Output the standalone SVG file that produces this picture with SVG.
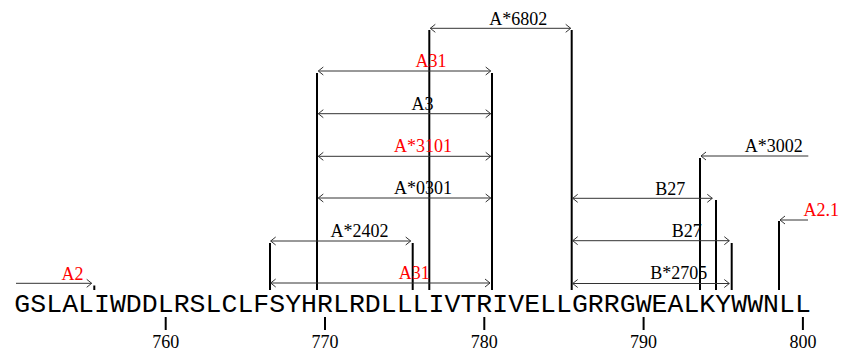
<svg xmlns="http://www.w3.org/2000/svg" width="846" height="360" viewBox="0 0 846 360">
<style>
.bg{fill:#ffffff}
.seq{font-family:"Liberation Mono","DejaVu Sans Mono",monospace;font-size:26.5px;fill:#000}
.num{font-family:"Liberation Serif","Times New Roman",serif;font-size:18px;fill:#000;text-anchor:middle}
.lbl{font-family:"Liberation Serif","Times New Roman",serif;font-size:18px;fill:#000;text-anchor:middle}
.red{fill:#ff0000}
.bar{stroke:#000;stroke-width:2;fill:none}
.arr{stroke:#333;stroke-width:1;fill:none}
</style>
<defs>
<marker id="ah" markerUnits="userSpaceOnUse" markerWidth="12" markerHeight="12" viewBox="-6 -6 12 12" refX="0" refY="0" orient="auto-start-reverse">
<path d="M-5,-4 L0,0 L-5,4" stroke="#333" stroke-width="1" fill="none"/>
</marker>
</defs>
<rect class="bg" x="0" y="0" width="846" height="360"/>

<g id="sequence">
<text class="seq" x="14.35" y="312" textLength="796.5" lengthAdjust="spacing">GSLALIWDDLRSLCLFSYHRLRDLLLIVTRIVELLGRRGWEALKYWWNLL</text>
</g>

<g id="axis">
<line class="bar" x1="165.7" y1="317" x2="165.7" y2="330"/>
<line class="bar" x1="325" y1="317" x2="325" y2="330"/>
<line class="bar" x1="484.3" y1="317" x2="484.3" y2="330"/>
<line class="bar" x1="643.6" y1="317" x2="643.6" y2="330"/>
<line class="bar" x1="802.9" y1="317" x2="802.9" y2="330"/>
<text class="num" x="165.7" y="348">760</text>
<text class="num" x="325" y="348">770</text>
<text class="num" x="484.3" y="348">780</text>
<text class="num" x="643.6" y="348">790</text>
<text class="num" x="802.9" y="348">800</text>
</g>

<g id="bars">
<line class="bar" x1="94.3" y1="285.5" x2="94.3" y2="290"/>
<line class="bar" x1="270" y1="243" x2="270" y2="290"/>
<line class="bar" x1="317" y1="73" x2="317" y2="290"/>
<line class="bar" x1="412.7" y1="243" x2="412.7" y2="290"/>
<line class="bar" x1="429.3" y1="30" x2="429.3" y2="290"/>
<line class="bar" x1="492" y1="73" x2="492" y2="290"/>
<line class="bar" x1="571.7" y1="30" x2="571.7" y2="290"/>
<line class="bar" x1="700" y1="158" x2="700" y2="290"/>
<line class="bar" x1="716" y1="200" x2="716" y2="290"/>
<line class="bar" x1="731.7" y1="243" x2="731.7" y2="290"/>
<line class="bar" x1="779" y1="221" x2="779" y2="290"/>
</g>

<g id="connectors">
<line class="arr" x1="430.3" y1="28.3" x2="570.7" y2="28.3" marker-start="url(#ah)" marker-end="url(#ah)"/>
<line class="arr" x1="318.3" y1="71" x2="490.7" y2="71" marker-start="url(#ah)" marker-end="url(#ah)"/>
<line class="arr" x1="318.3" y1="113.7" x2="490.7" y2="113.7" marker-start="url(#ah)" marker-end="url(#ah)"/>
<line class="arr" x1="318.3" y1="156.3" x2="490.7" y2="156.3" marker-start="url(#ah)" marker-end="url(#ah)"/>
<line class="arr" x1="318.3" y1="198" x2="490.7" y2="198" marker-start="url(#ah)" marker-end="url(#ah)"/>
<line class="arr" x1="270.7" y1="241" x2="410.7" y2="241" marker-start="url(#ah)" marker-end="url(#ah)"/>
<line class="arr" x1="270.7" y1="283" x2="490" y2="283" marker-start="url(#ah)" marker-end="url(#ah)"/>
<line class="arr" x1="701" y1="156" x2="808.3" y2="156" marker-start="url(#ah)"/>
<line class="arr" x1="572.7" y1="198.3" x2="712.3" y2="198.3" marker-start="url(#ah)" marker-end="url(#ah)"/>
<line class="arr" x1="780" y1="220" x2="808" y2="220" marker-start="url(#ah)"/>
<line class="arr" x1="572.7" y1="240.7" x2="729.3" y2="240.7" marker-start="url(#ah)" marker-end="url(#ah)"/>
<line class="arr" x1="572.7" y1="283.5" x2="729.3" y2="283.5" marker-start="url(#ah)" marker-end="url(#ah)"/>
<line class="arr" x1="16" y1="283.3" x2="91.7" y2="283.3" marker-end="url(#ah)"/>
</g>

<g id="A6802"><text class="lbl" x="518.3" y="24.7">A*6802</text></g>
<g id="A31-top"><text class="lbl red" x="431" y="66.7">A31</text></g>
<g id="A3"><text class="lbl" x="422.5" y="109.7">A3</text></g>
<g id="A3101"><text class="lbl red" x="422.9" y="151.7">A*3101</text></g>
<g id="A0301"><text class="lbl" x="422.9" y="194.3">A*0301</text></g>
<g id="A2402"><text class="lbl" x="359.5" y="236.7">A*2402</text></g>
<g id="A31-bottom"><text class="lbl red" x="414.3" y="279.3">A31</text></g>
<g id="A3002"><text class="lbl" x="773.8" y="151.7">A*3002</text></g>
<g id="B27-1"><text class="lbl" x="670.3" y="194.5">B27</text></g>
<g id="A2-1"><text class="lbl red" x="821.3" y="216">A2.1</text></g>
<g id="B27-2"><text class="lbl" x="686.7" y="236.7">B27</text></g>
<g id="B2705"><text class="lbl" x="678.8" y="279.3">B*2705</text></g>
<g id="A2"><text class="lbl red" x="72.5" y="279.8">A2</text></g>
</svg>
